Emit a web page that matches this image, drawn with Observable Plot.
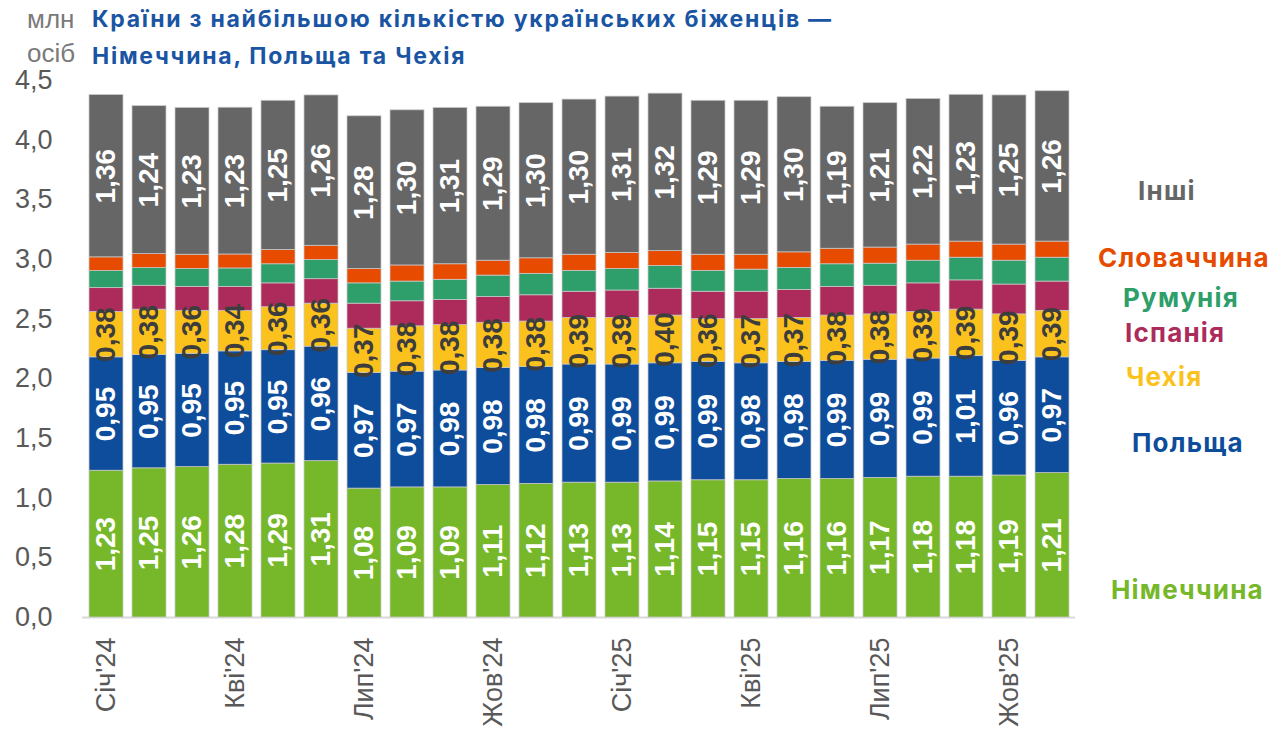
<!DOCTYPE html>
<html>
<head>
<meta charset="utf-8">
<script src="https://cdn.jsdelivr.net/npm/d3@7"></script>
<script src="https://cdn.jsdelivr.net/npm/@observablehq/plot@0.6"></script>
<style>
  html, body { margin: 0; padding: 0; background: #fff; }
  #wrap { position: relative; width: 1279px; height: 733px; overflow: hidden; }
  #chart { position: absolute; left: 0; top: 0; }
  .unit { position: absolute; left: 27px; font: 26px "Liberation Sans", Arial, sans-serif; color: #7a7a7a; transform: translateY(-50%); }
  #title { position: absolute; left: 92px; top: 1px; font: normal bold 23px "Inter", "Liberation Sans", Arial, sans-serif; letter-spacing: 1.75px; color: #1a55a3; line-height: 37px; }
  .leg { position: absolute; font: normal bold 26px "Inter", "Liberation Sans", sans-serif; letter-spacing: 1.2px; transform: translateY(-50%); white-space: nowrap; }
</style>
</head>
<body>
<div id="wrap">
  <div id="chart"></div>
  <div class="unit" style="top:19px">млн</div>
  <div class="unit" style="top:53px">осіб</div>
  <div id="title">Країни з найбільшою кількістю українських біженців —<br>Німеччина, Польща та Чехія</div>
  <div id="legend"></div>
</div>
<script>
const months = ["Січ'24","Лют'24","Бер'24","Кві'24","Тра'24","Чер'24","Лип'24","Сер'24","Вер'24","Жов'24","Лис'24","Гру'24",
                "Січ'25","Лют'25","Бер'25","Кві'25","Тра'25","Чер'25","Лип'25","Сер'25","Вер'25","Жов'25","Лис'25"];

const germany  = [1.23,1.25,1.26,1.28,1.29,1.31,1.08,1.09,1.09,1.11,1.12,1.13,1.13,1.14,1.15,1.15,1.16,1.16,1.17,1.18,1.18,1.19,1.21];
const poland   = [0.95,0.95,0.95,0.95,0.95,0.96,0.97,0.97,0.98,0.98,0.98,0.99,0.99,0.99,0.99,0.98,0.98,0.99,0.99,0.99,1.01,0.96,0.97];
const czechia  = [0.38,0.38,0.36,0.34,0.36,0.36,0.37,0.38,0.38,0.38,0.38,0.39,0.39,0.40,0.36,0.37,0.37,0.38,0.38,0.39,0.39,0.39,0.39];
const spain    = [0.20,0.20,0.20,0.20,0.20,0.205,0.21,0.21,0.21,0.215,0.22,0.22,0.23,0.225,0.23,0.23,0.235,0.24,0.24,0.24,0.245,0.25,0.245];
const romania  = [0.143,0.148,0.15,0.155,0.16,0.16,0.17,0.165,0.17,0.18,0.18,0.175,0.18,0.19,0.175,0.185,0.185,0.19,0.185,0.19,0.19,0.20,0.20];
const slovakia = [0.115,0.117,0.12,0.117,0.12,0.12,0.12,0.135,0.13,0.125,0.13,0.135,0.135,0.125,0.135,0.125,0.13,0.13,0.135,0.135,0.135,0.135,0.135];
const others   = [1.36,1.24,1.23,1.23,1.25,1.26,1.28,1.30,1.31,1.29,1.30,1.30,1.31,1.32,1.29,1.29,1.30,1.19,1.21,1.22,1.23,1.25,1.26];

const seriesNames = ["Німеччина","Польща","Чехія","Іспанія","Румунія","Словаччина","Інші"];
const seriesValues = [germany, poland, czechia, spain, romania, slovakia, others];
const seriesColors = ["#76b82a","#0e4d9b","#fbc21e","#ac2b5a","#2e9f6a","#e64b00","#666666"];
const whiteLabelSeries = ["Німеччина","Польща","Інші"];
const darkLabelSeries = ["Чехія"];
const yTicks = [0,0.5,1,1.5,2,2.5,3,3.5,4,4.5];

// legend (top to bottom) with its text positions on the page
const legendItems = [
  {name: "Інші",       left: 1138, top: 190},
  {name: "Словаччина", left: 1098, top: 257},
  {name: "Румунія",    left: 1123, top: 297},
  {name: "Іспанія",    left: 1125, top: 332},
  {name: "Чехія",      left: 1126, top: 376},
  {name: "Польща",     left: 1132, top: 442},
  {name: "Німеччина",  left: 1111, top: 589}
];

const rows = [];
seriesNames.forEach((s, si) => {
  months.forEach((m, mi) => rows.push({month: m, series: s, value: seriesValues[si][mi]}));
});

const comma = (v, n) => v.toFixed(n).replace(".", ",");

const chart = Plot.plot({
  width: 1279,
  height: 733,
  marginTop: 80,
  marginBottom: 116,
  marginLeft: 82,
  marginRight: 204,
  style: {fontFamily: "'Liberation Sans', Arial, sans-serif", fontSize: "27px", color: "#595959", background: "transparent", overflow: "visible"},
  x: {domain: months, paddingInner: 0.21, paddingOuter: 0.1, label: null, tickSize: 0, tickPadding: 20, tickRotate: -90,
      tickFormat: (d, i) => (months.indexOf(d) % 3 === 0 ? d : "")},
  y: {domain: [0, 4.5], ticks: yTicks, tickFormat: d => comma(d, 1), tickSize: 0, tickPadding: 30, label: null},
  color: {domain: seriesNames, range: seriesColors},
  marks: [
    Plot.ruleY([0], {stroke: "#d9d9d9", strokeWidth: 2}),
    Plot.barY(rows, {x: "month", y: "value", fill: "series", z: "series", order: seriesNames, stroke: "#c9c9c9", strokeWidth: 0.75}),
    Plot.text(rows, Plot.stackY({x: "month", y: "value", z: "series", order: seriesNames,
      text: d => whiteLabelSeries.includes(d.series) ? comma(d.value, 2) : "",
      fill: "white", rotate: -90, fontSize: 28, fontWeight: "bold"})),
    Plot.text(rows, Plot.stackY({x: "month", y: "value", z: "series", order: seriesNames,
      text: d => darkLabelSeries.includes(d.series) ? comma(d.value, 2) : "",
      fill: "#3d3d3d", rotate: -90, fontSize: 28, fontWeight: "bold"}))
  ]
});
document.getElementById("chart").appendChild(chart);

const legend = document.getElementById("legend");
legendItems.forEach(item => {
  const el = document.createElement("div");
  el.className = "leg";
  el.textContent = item.name;
  el.style.left = item.left + "px";
  el.style.top = item.top + "px";
  el.style.color = seriesColors[seriesNames.indexOf(item.name)];
  legend.appendChild(el);
});
</script>
</body>
</html>
